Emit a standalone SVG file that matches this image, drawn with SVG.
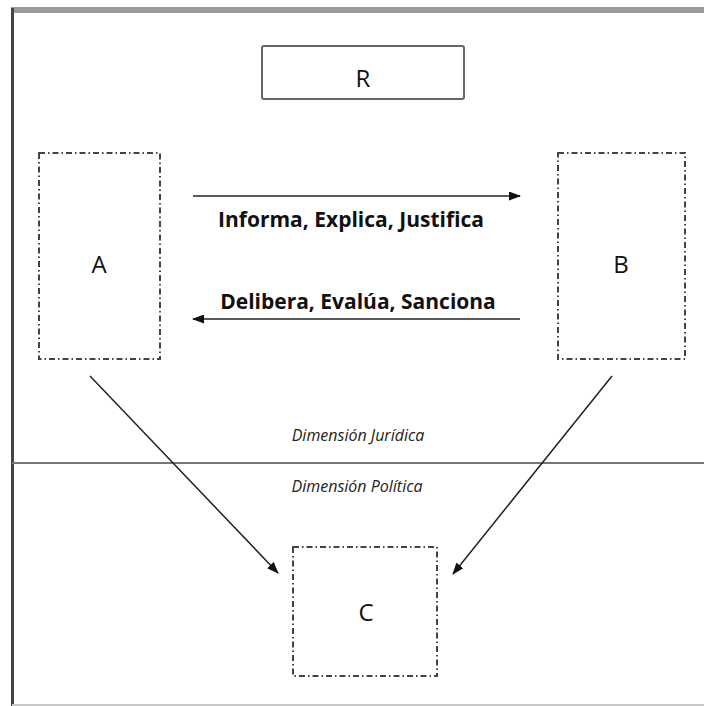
<svg xmlns="http://www.w3.org/2000/svg" width="704" height="706" viewBox="0 0 704 706">
  <defs>
    <marker id="arrow" viewBox="0 0 12 9" refX="11" refY="4.5" markerWidth="12" markerHeight="9" markerUnits="userSpaceOnUse" orient="auto">
      <path d="M0,0 L12,4.5 L0,9 z" fill="#111"/>
    </marker>
    <style>
      .frame-top { stroke: #9a9a9a; stroke-width: 6; fill: none; }
      .frame-left { stroke: #444; stroke-width: 3; fill: none; }
      .frame-bottom { stroke: #c8c8c8; stroke-width: 2; fill: none; }
      .divider { stroke: #777; stroke-width: 2; fill: none; }
      .solid-box { fill: #fff; stroke: #666; stroke-width: 2; }
      .dash-box { fill: none; stroke: #444; stroke-width: 2; stroke-dasharray: 6 3 1.5 3; }
      .label { font-family: "Open Sans", "Liberation Sans", sans-serif; font-size: 24px; fill: #111; text-anchor: middle; }
      .verb { font-family: "Open Sans", "Liberation Sans", sans-serif; font-size: 21px; font-weight: bold; fill: #111; text-anchor: middle; }
      .dim { font-family: "Open Sans", "Liberation Sans", sans-serif; font-size: 16px; font-style: italic; fill: #222; text-anchor: middle; }
      .conn { stroke: #222; stroke-width: 1.5; fill: none; marker-end: url(#arrow); }
    </style>
  </defs>

  <rect width="704" height="706" fill="#fff"/>

  <!-- page frame -->
  <line class="frame-top" x1="11" y1="10" x2="704" y2="10"/>
  <line class="frame-left" x1="12.5" y1="8" x2="12.5" y2="706"/>
  <line class="frame-bottom" x1="12" y1="705" x2="704" y2="705"/>

  <!-- boundary between the two dimensions -->
  <line class="divider" x1="12" y1="463" x2="704" y2="463"/>
  <text class="dim" x="358" y="441">Dimensión Jurídica</text>
  <text class="dim" x="357" y="492">Dimensión Política</text>

  <g id="node-R">
    <rect class="solid-box" x="262" y="46" width="202" height="53" rx="2"/>
    <text class="label" x="363" y="87">R</text>
  </g>

  <g id="node-A">
    <rect class="dash-box" x="39" y="153" width="121" height="206"/>
    <text class="label" x="99" y="273">A</text>
  </g>

  <g id="node-B">
    <rect class="dash-box" x="558" y="153" width="127" height="206"/>
    <text class="label" x="621" y="273">B</text>
  </g>

  <g id="node-C">
    <rect class="dash-box" x="293" y="547" width="144" height="129"/>
    <text class="label" x="366" y="621">C</text>
  </g>

  <g id="connectors">
    <line class="conn" x1="193" y1="196" x2="520" y2="196"/>
    <text class="verb" x="351" y="227">Informa, Explica, Justifica</text>
    <text class="verb" x="358" y="309">Delibera, Evalúa, Sanciona</text>
    <line class="conn" x1="520" y1="319" x2="193" y2="319"/>
    <line class="conn" x1="90" y1="376" x2="278" y2="573"/>
    <line class="conn" x1="612" y1="376" x2="453" y2="574"/>
  </g>
</svg>
